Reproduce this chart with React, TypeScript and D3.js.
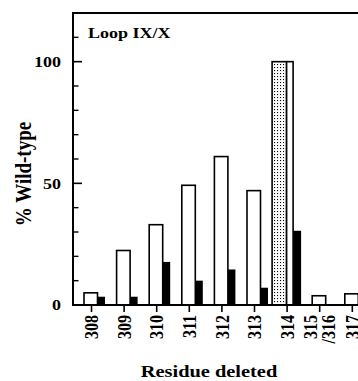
import React from "react";
import * as d3 from "d3";

// residues deleted in loop IX/X
const residues = ["308", "309", "310", "311", "312", "313", "314", "315/316", "317"];
// open bars
const openValues = [5, 22.4, 33, 49.2, 61, 47, 100, 3.8, 4.6];
// filled bars
const filledValues = [3.4, 3.4, 17.7, 10, 14.6, 7.1, 30.5, 0, 0];
// stippled bar (wild-type reference)
const stippledValues = [0, 0, 0, 0, 0, 0, 100, 0, 0];

const yMajor = [0, 50, 100];
const yMinor = [10, 20, 30, 40, 60, 70, 80, 90, 110];

const W = 358;
const H = 381;
const left = 73;
const top = 13;
const bottom = 305;
const font = "'Liberation Serif', 'Times New Roman', serif";
const sx = 1.2; // the scan is stretched sideways

export default function App() {
  const y = d3.scaleLinear().domain([0, 120]).range([bottom, top]);
  const x = d3.scalePoint<string>().domain(residues).range([91.5, 352.3]);

  return (
    <svg width={W} height={H} style={{ position: "absolute", left: 0, top: 0, background: "#fff" }}>
      <defs>
        <pattern id="dots" width="3" height="3" patternUnits="userSpaceOnUse">
          <rect width="3" height="3" fill="#fff" />
          <rect x="1" y="1" width="1.1" height="1.1" fill="#000" />
        </pattern>
      </defs>

      {/* bars */}
      {residues.map((r, i) => {
        const cx = x(r)!;
        const hasStipple = stippledValues[i] > 0;
        const open = hasStipple ? [cx - 0.5, cx + 6] : [cx - 7.5, cx + 6];
        const filled = hasStipple ? [cx + 6, cx + 14] : [cx + 6, cx + 13.5];
        return (
          <g key={r}>
            {hasStipple && (
              <rect x={cx - 15} y={y(stippledValues[i])} width={14.5}
                height={bottom - y(stippledValues[i])} fill="url(#dots)" stroke="#000" strokeWidth={1.6} />
            )}
            {openValues[i] > 0 && (
              <rect x={open[0]} y={y(openValues[i])} width={open[1] - open[0]}
                height={bottom - y(openValues[i])} fill="#fff" stroke="#000" strokeWidth={1.6} />
            )}
            {filledValues[i] > 0 && (
              <rect x={filled[0]} y={y(filledValues[i])} width={filled[1] - filled[0]}
                height={bottom - y(filledValues[i])} fill="#000" />
            )}
          </g>
        );
      })}

      {/* frame */}
      <line x1={left} x2={W} y1={top} y2={top} stroke="#000" strokeWidth={2} />
      <line x1={left} x2={left} y1={top - 1} y2={bottom + 1} stroke="#000" strokeWidth={2} />
      <line x1={left} x2={W} y1={bottom} y2={bottom} stroke="#000" strokeWidth={2} />

      {/* y ticks */}
      {yMajor.map((v) => (
        <g key={"M" + v}>
          <line x1={left} x2={left + 9} y1={y(v)} y2={y(v)} stroke="#000" strokeWidth={1.6} />
          <text transform={`translate(61,${y(v)}) scale(${sx},1)`} textAnchor="end" dy="0.35em"
            fontFamily={font} fontWeight="bold" fontSize={15}>{v}</text>
        </g>
      ))}
      {yMinor.map((v) => (
        <line key={"m" + v} x1={left} x2={left + 5.5} y1={y(v)} y2={y(v)} stroke="#000" strokeWidth={1.4} />
      ))}

      {/* x ticks + labels */}
      {residues.map((r) => {
        const cx = x(r)!;
        const parts = r.includes("/") ? [r.split("/")[0], "/" + r.split("/")[1]] : [r];
        return (
          <g key={"t" + r}>
            <line x1={cx} x2={cx} y1={bottom} y2={bottom + 7} stroke="#000" strokeWidth={1.6} />
            {parts.map((p, j) => {
              const px = parts.length > 1 ? cx + (j === 0 ? -9 : 9) : cx;
              return (
                <text key={p} transform={`translate(${px},315) scale(${sx},1) rotate(-90)`} textAnchor="end"
                  dy="0.35em" fontFamily={font} fontWeight="bold" fontSize={16}>{p}</text>
              );
            })}
          </g>
        );
      })}

      {/* titles */}
      <text transform={`translate(88,38) scale(${sx},1)`} fontFamily={font} fontWeight="bold" fontSize={15}>Loop IX/X</text>
      <text transform={`translate(23,174) scale(${sx},1) rotate(-90)`} textAnchor="middle" dy="0.35em"
        fontFamily={font} fontWeight="bold" fontSize={19}>% Wild-type</text>
      <text transform={`translate(209,377) scale(${sx},1)`} textAnchor="middle"
        fontFamily={font} fontWeight="bold" fontSize={17}>Residue deleted</text>
    </svg>
  );
}
